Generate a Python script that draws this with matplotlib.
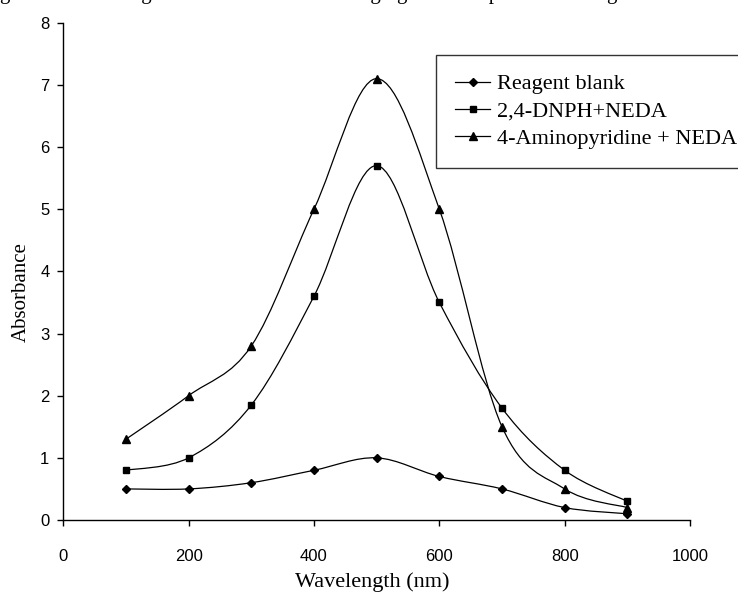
import matplotlib
matplotlib.use("Agg")
import matplotlib.pyplot as plt
from matplotlib.path import Path
from matplotlib.patches import PathPatch
from matplotlib.lines import Line2D

# data
wavelength = [100, 200, 300, 400, 500, 600, 700, 800, 900]
blank = [0.5, 0.5, 0.6, 0.8, 1.0, 0.7, 0.5, 0.2, 0.1]
dnph = [0.8, 1.0, 1.85, 3.6, 5.7, 3.5, 1.8, 0.8, 0.3]
aminopyridine = [1.3, 2.0, 2.8, 5.0, 7.1, 5.0, 1.5, 0.5, 0.2]

labels = ["Reagent blank", "2,4-DNPH+NEDA", "4-Aminopyridine + NEDA"]
markers = ["D", "s", "^"]
msizes = [4.5, 5, 6]

serif = "Liberation Serif"
sans = "Liberation Sans"


def smooth_path(x, y):
    # Excel style smoothed line: cubic bezier, control points from neighbours
    n = len(x)
    verts = [(x[0], y[0])]
    codes = [Path.MOVETO]
    for i in range(n - 1):
        x0, y0 = x[max(i - 1, 0)], y[max(i - 1, 0)]
        x3, y3 = x[min(i + 2, n - 1)], y[min(i + 2, n - 1)]
        c1 = (x[i] + (x[i + 1] - x0) / 6, y[i] + (y[i + 1] - y0) / 6)
        c2 = (x[i + 1] - (x3 - x[i]) / 6, y[i + 1] - (y3 - y[i]) / 6)
        verts += [c1, c2, (x[i + 1], y[i + 1])]
        codes += [Path.CURVE4] * 3
    return Path(verts, codes)


fig = plt.figure(figsize=(7.38, 5.98), dpi=100)
ax = fig.add_axes([63.3 / 738, 1 - 520 / 598, (690 - 63.3) / 738, (520 - 22.7) / 598])

handles = []
for series, m, ms, lab in zip([blank, dnph, aminopyridine], markers, msizes, labels):
    ax.add_patch(PathPatch(smooth_path(wavelength, series), facecolor="none",
                           edgecolor="black", lw=0.9))
    ax.plot(wavelength, series, linestyle="none", marker=m, ms=ms, color="black")
    handles.append(Line2D([], [], color="black", lw=0.9, marker=m, ms=ms))

ax.set_xlim(0, 1000)
ax.set_ylim(0, 8)
ax.set_xticks(range(0, 1001, 200))
ax.set_yticks(range(0, 9))
ax.spines["top"].set_visible(False)
ax.spines["right"].set_visible(False)
for s in ["left", "bottom"]:
    ax.spines[s].set_linewidth(1.0)
ax.tick_params(axis="both", direction="out", length=4, width=1.0, labelsize=12)
ax.tick_params(axis="x", pad=17)
ax.tick_params(axis="y", pad=6)
for t in ax.get_xticklabels() + ax.get_yticklabels():
    t.set_fontfamily(sans)

ax.set_xlabel("Wavelength (nm)", family=serif, fontsize=16)
ax.xaxis.set_label_coords(0.4925, (520 - 572) / 497.3)
ax.set_ylabel("Absorbance", family=serif, fontsize=15)
ax.yaxis.set_label_coords(-0.052, 0.458)

leg = ax.legend(handles, labels, loc="upper left", bbox_to_anchor=(436 / 738, 1 - 55 / 598),
                bbox_transform=fig.transFigure, prop={"family": serif, "size": 16},
                frameon=True, fancybox=False, edgecolor="black", handlelength=1.6,
                handletextpad=0.3, labelspacing=0.3, borderpad=0.85, borderaxespad=0)
leg.get_frame().set_linewidth(1.0)

# caption line cut off at the top of the picture
fig.text(0.0, 1 + 1 / 598, "gure 4: The change of absorbance with changing the absorption wavelength",
         family=serif, fontsize=15, va="baseline", ha="left")

plt.savefig("out.png", dpi=100)
